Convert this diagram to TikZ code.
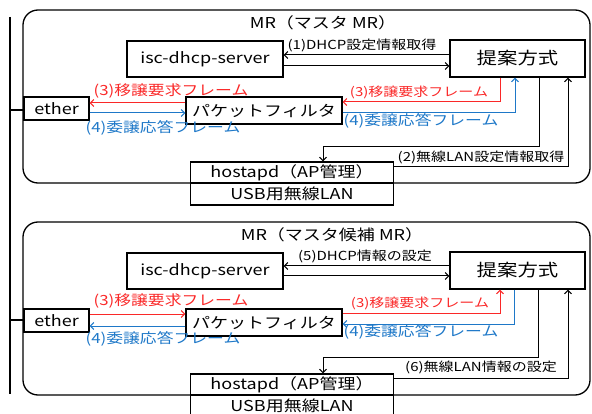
\documentclass[tikz,border=0pt]{standalone}
\usepackage{fontspec}
\setmainfont[FakeStretch=1.2]{Noto Sans CJK JP}
\usetikzlibrary{arrows.meta}
\definecolor{myred}{RGB}{250,40,40}
\definecolor{myblue}{RGB}{30,120,200}
\begin{document}
\begin{tikzpicture}[x=1pt,y=-1pt,
  box/.style={draw=black, line width=1.3pt, fill=white, inner sep=0pt, font=\fontsize{15}{15}\selectfont},
  lbl/.style={inner sep=0pt, font=\fontsize{12.5}{12.5}\selectfont},
  clbl/.style={inner sep=0pt, font=\fontsize{14}{14}\selectfont},
  slbl/.style={inner sep=0pt, font=\fontsize{12.5}{12.5}\selectfont},
  ttl/.style={inner sep=0pt, font=\fontsize{15}{15}\selectfont},
  outer/.style={draw=black, line width=1.3pt, rounded corners=15pt},
  conn/.style={line width=1pt, -{Straight Barb[length=3.5pt,width=7pt]}},
  redc/.style={conn, draw=myred},
  bluec/.style={conn, draw=myblue},
  blkc/.style={conn, draw=black}]
\useasboundingbox (0,0) rectangle (592,414);

% left bus line
\coordinate (bustop) at (10,17);
\coordinate (busbot) at (10,394);
\draw[line width=1.2pt] (bustop) -- (busbot);

% ===== top section =====
\draw[outer] (23,10) rectangle (590,183);
\node[ttl] (t1) at (323,23) {MR（マスタ MR）};
\node[box, minimum width=156pt, minimum height=36pt] (isc1) at (205,59) {isc-dhcp-server};
\node[box, minimum width=135pt, minimum height=37pt, font=\fontsize{17}{17}\selectfont] (tei1) at (517.5,58.5) {提案方式};
\node[box, minimum width=65pt, minimum height=23pt] (eth1) at (56.5,108.5) {ether};
\node[box, minimum width=156pt, minimum height=27pt] (pf1) at (264,110.5) {パケットフィルタ};
\node[box, minimum width=203pt, minimum height=21pt] (ap1) at (292,172.5) {hostapd（AP管理）};
\node[box, minimum width=203pt, minimum height=22pt] (usb1) at (292,194) {USB用無線LAN};

\draw[line width=1.2pt] (10,110) -- (eth1.west |- 0,110);

\draw[blkc] (tei1.west |- 0,55) -- (isc1.east |- 0,55);
\draw[blkc] (isc1.east |- 0,66) -- (tei1.west |- 0,66);
\node[lbl] (l1) at (362,45) {(1)DHCP設定情報取得};

\draw[redc] (pf1.west |- 0,103) -- (eth1.east |- 0,103);
\draw[bluec] (eth1.east |- 0,113) -- (pf1.west |- 0,113);
\node[clbl, text=myred] (r1a) at (171,91) {(3)移譲要求フレーム};
\node[clbl, text=myblue] (b1a) at (163,128) {(4)委譲応答フレーム};

\draw[redc] (tei1.south -| 500,0) |- (pf1.east |- 0,102);
\draw[bluec] (pf1.east |- 0,113) -| (tei1.south -| 515,0);
\node[slbl, text=myred] (r1b) at (419,92) {(3)移譲要求フレーム};
\node[clbl, text=myblue] (b1b) at (421,121) {(4)委譲応答フレーム};

\draw[blkc] (tei1.south -| 539,0) |- (323,147) -- (ap1.north -| 323,0);
\draw[blkc] (ap1.east |- 0,167) -| (tei1.south -| 568,0);
\node[lbl] (l2) at (481,157) {(2)無線LAN設定情報取得};

% ===== bottom section =====
\draw[outer] (23,222) rectangle (590,395);
\node[ttl] (t2) at (332,235) {MR（マスタ候補 MR）};
\node[box, minimum width=156pt, minimum height=36pt] (isc2) at (205,271) {isc-dhcp-server};
\node[box, minimum width=135pt, minimum height=37pt, font=\fontsize{17}{17}\selectfont] (tei2) at (517.5,270.5) {提案方式};
\node[box, minimum width=65pt, minimum height=23pt] (eth2) at (56.5,320.5) {ether};
\node[box, minimum width=156pt, minimum height=27pt] (pf2) at (264,322.5) {パケットフィルタ};
\node[box, minimum width=203pt, minimum height=21pt] (ap2) at (292,384.5) {hostapd（AP管理）};
\node[box, minimum width=203pt, minimum height=22pt] (usb2) at (292,406) {USB用無線LAN};

\draw[line width=1.2pt] (10,320) -- (eth2.west |- 0,320);

\draw[blkc] (tei2.west |- 0,266) -- (isc2.east |- 0,266);
\draw[blkc] (isc2.east |- 0,276) -- (tei2.west |- 0,276);
\node[lbl] (l5) at (365,256) {(5)DHCP情報の設定};

\draw[redc] (eth2.east |- 0,314) -- (pf2.west |- 0,314);
\draw[bluec] (pf2.west |- 0,326) -- (eth2.east |- 0,326);
\node[clbl, text=myred] (r2a) at (171,301) {(3)移譲要求フレーム};
\node[clbl, text=myblue] (b2a) at (163,339) {(4)委譲応答フレーム};

\draw[redc] (pf2.east |- 0,313) -| (tei2.south -| 500,0);
\draw[bluec] (tei2.south -| 514,0) |- (pf2.east |- 0,324);
\node[slbl, text=myred] (r2b) at (420,303) {(3)移譲要求フレーム};
\node[clbl, text=myblue] (b2b) at (421,332) {(4)委譲応答フレーム};

\draw[blkc] (tei2.south -| 538,0) |- (323,357) -- (ap2.north -| 323,0);
\draw[blkc] (ap2.east |- 0,378) -| (tei2.south -| 568,0);
\node[lbl] (l6) at (481,367) {(6)無線LAN情報の設定};
\end{tikzpicture}
\end{document}
